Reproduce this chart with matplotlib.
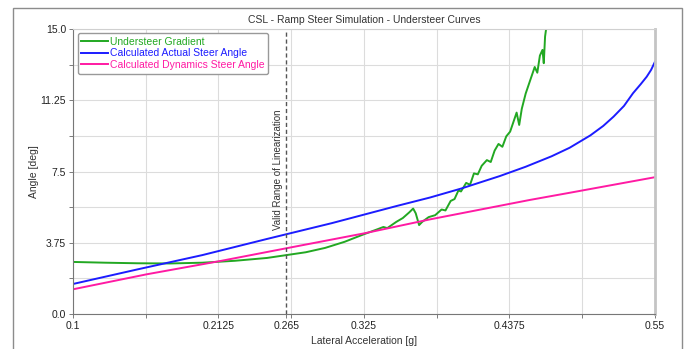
import matplotlib
matplotlib.use("Agg")
import matplotlib.pyplot as plt
from matplotlib.patches import Rectangle

plt.rcParams.update({
    "font.family": ["Liberation Sans", "DejaVu Sans"],
    "font.size": 7.5,
    "axes.linewidth": 0.8,
})

# --- data -------------------------------------------------------------
actual_ay = [0.100, 0.150, 0.200, 0.250, 0.300, 0.350, 0.376, 0.400, 0.430,
             0.450, 0.470, 0.484, 0.500, 0.510, 0.518, 0.526, 0.533, 0.539,
             0.5436, 0.547, 0.550]
actual_deg = [1.58, 2.35, 3.10, 3.95, 4.78, 5.68, 6.13, 6.60, 7.26,
              7.75, 8.30, 8.75, 9.40, 9.90, 10.39, 10.95, 11.62, 12.10,
              12.49, 12.85, 13.28]

dyn_ay = [0.100, 0.157, 0.214, 0.265, 0.3255, 0.376, 0.453, 0.484, 0.550]
dyn_deg = [1.30, 2.09, 2.79, 3.46, 4.25, 4.98, 6.00, 6.38, 7.20]

us_ay = [0.100, 0.125, 0.150, 0.175, 0.200, 0.225, 0.250, 0.265, 0.280,
         0.295, 0.310, 0.325, 0.335, 0.340, 0.343, 0.350, 0.355, 0.360,
         0.363, 0.365, 0.3676, 0.370, 0.375, 0.380, 0.385, 0.388, 0.392,
         0.395, 0.398, 0.400, 0.404, 0.407, 0.410, 0.413, 0.416, 0.420,
         0.423, 0.426, 0.429, 0.432, 0.435, 0.438, 0.441, 0.443, 0.445,
         0.447, 0.450, 0.452, 0.455, 0.457, 0.459, 0.461, 0.463, 0.464,
         0.465, 0.467]
us_deg = [2.74, 2.70, 2.67, 2.66, 2.70, 2.80, 2.95, 3.10, 3.25,
          3.48, 3.80, 4.20, 4.45, 4.58, 4.52, 4.85, 5.05, 5.35,
          5.55, 5.30, 4.68, 4.85, 5.10, 5.20, 5.50, 5.45, 5.95,
          6.05, 6.50, 6.45, 6.90, 6.80, 7.40, 7.35, 7.80, 8.10,
          8.00, 8.60, 8.95, 8.80, 9.35, 9.60, 10.20, 10.60, 9.95,
          10.80, 11.60, 12.00, 12.60, 13.00, 12.70, 13.60, 13.90, 13.20,
          14.60, 15.60]

linear_limit = 0.265

x_grid = [0.1, 0.15625, 0.2125, 0.26875, 0.325, 0.38125, 0.4375, 0.49375, 0.55]
x_labels = ["0.1", "", "0.2125", "", "0.325", "", "0.4375", "", "0.55"]
y_major = [0.0, 3.75, 7.5, 11.25, 15.0]
y_labels = ["0.0", "3.75", "7.5", "11.25", "15.0"]
y_minor = [1.875, 5.625, 9.375, 13.125]

GREEN = "#22a822"
BLUE = "#1c1cff"
PINK = "#ff1aa3"

fig = plt.figure(figsize=(6.86, 3.49), dpi=100)
fig.patches.append(Rectangle((12.5 / 686, -0.05), (682 - 12.5) / 686, 1.05 - 8 / 349,
                             transform=fig.transFigure, fill=False,
                             edgecolor="#8c8c8c", linewidth=1.0))
ax = fig.add_axes([73 / 686, 1 - 314 / 349, (655 - 73) / 686, (314 - 29) / 349])

ax.plot(us_ay, us_deg, color=GREEN, lw=1.4, label="Understeer Gradient")
ax.plot(actual_ay, actual_deg, color=BLUE, lw=1.4, label="Calculated Actual Steer Angle")
ax.plot(dyn_ay, dyn_deg, color=PINK, lw=1.4, label="Calculated Dynamics Steer Angle")

ax.axvline(linear_limit, color="#555555", lw=1.0, ls=(0, (3, 2)))
ax.text(linear_limit - 0.0065, 4.4, "Valid Range of Linearization", rotation=90,
        ha="center", va="bottom", fontsize=7, color="#333333")

ax.set_xlim(0.1, 0.55)
ax.set_ylim(0.0, 15.0)
ax.set_xticks(x_grid, x_labels)
ax.set_xticks([linear_limit], [str(linear_limit)], minor=True)
ax.set_yticks(y_major, y_labels)
ax.set_yticks(y_minor, minor=True)
ax.tick_params(axis="both", which="both", length=3, width=0.6, color="#666666",
               labelsize=7.5, labelcolor="#222222", pad=2)
ax.xaxis.grid(True, which="major", color="#dcdcdc", lw=0.8)
ax.yaxis.grid(True, which="both", color="#dcdcdc", lw=0.8)
ax.set_axisbelow(True)

ax.spines["left"].set_color("#777777")
ax.spines["bottom"].set_color("#777777")
ax.spines["top"].set_color("#d0d0d0")
ax.spines["right"].set_color("#c4c4c4")
ax.spines["right"].set_linewidth(2.0)

ax.set_title("CSL - Ramp Steer Simulation - Understeer Curves", fontsize=7.5,
             color="#333333", pad=4)
ax.set_xlabel("Lateral Acceleration [g]", fontsize=7.5, color="#333333", labelpad=4)
ax.set_ylabel("Angle [deg]", fontsize=7.5, color="#333333", labelpad=1)

leg = ax.legend(loc="upper left", bbox_to_anchor=(0.008, 0.985), fontsize=7.5,
                frameon=True, fancybox=True, edgecolor="#999999", framealpha=1,
                handlelength=2.6, handletextpad=0.15, borderpad=0.35,
                labelspacing=0.15, borderaxespad=0)
for txt, col in zip(leg.get_texts(), [GREEN, BLUE, PINK]):
    txt.set_color(col)

fig.savefig("out.png", dpi=100)
